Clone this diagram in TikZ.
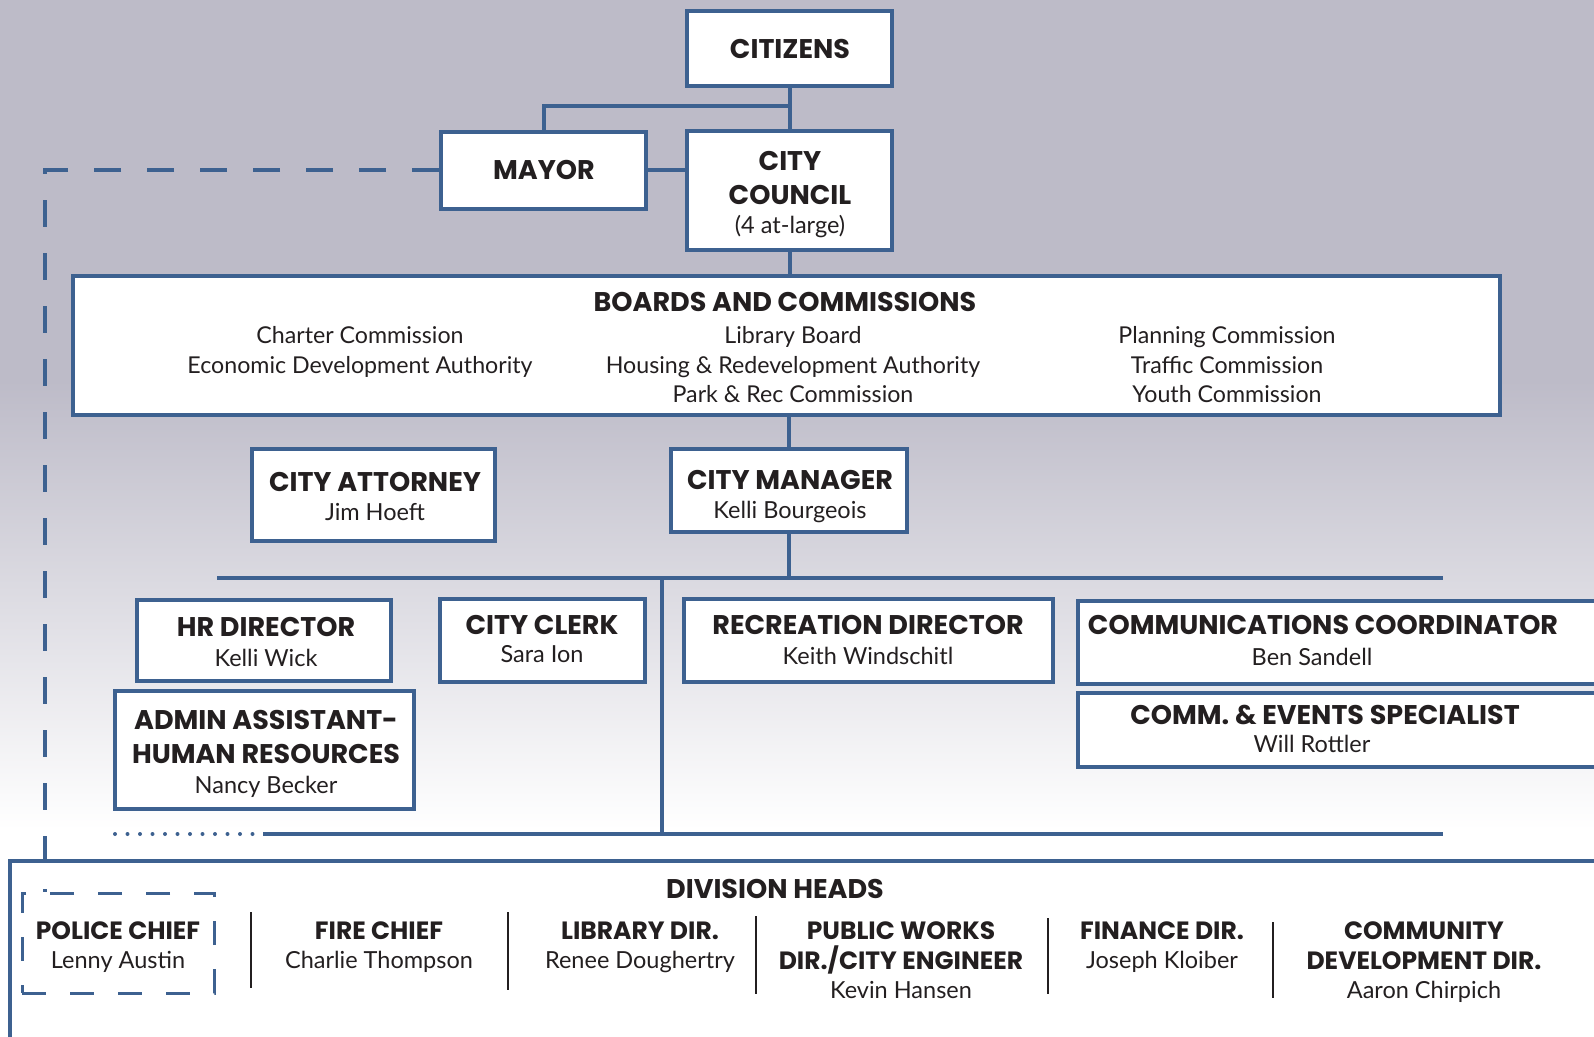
\documentclass[tikz,border=0pt]{standalone}
\usepackage{fontspec}
\setmainfont{Lato}
\newfontfamily\hf{Poppins}
\definecolor{bgtop}{RGB}{189,187,200}
\definecolor{navy}{RGB}{61,97,144}
\definecolor{ink}{RGB}{35,31,32}
\tikzset{
  box/.style={draw=navy, line width=4pt, fill=white, inner sep=0pt},
  conn/.style={draw=navy, line width=4pt},
  dashconn/.style={draw=navy, line width=4pt, dash pattern=on 27pt off 26pt},
  dotconn/.style={draw=navy, line width=4pt, line cap=round, dash pattern=on 0pt off 12.5pt},
  polbox/.style={draw=navy, line width=3pt, dash pattern=on 24pt off 24pt, inner sep=0pt},
  sep/.style={draw=ink, line width=2pt},
  hd/.style={font=\hf\bfseries\fontsize{27}{30}\selectfont, text=ink, anchor=base, inner sep=0pt},
  hdc/.style={font=\hf\bfseries\fontsize{27}{30}\selectfont, text=ink, anchor=base, inner sep=0pt},
  dh/.style={font=\hf\bfseries\fontsize{25}{28}\selectfont, text=ink, anchor=base, inner sep=0pt},
  nm/.style={font=\fontsize{23.5}{26}\selectfont, text=ink, anchor=base, inner sep=0pt},
  bd/.style={font=\fontsize{23.2}{26}\selectfont, text=ink, anchor=base, inner sep=0pt},
}
\begin{document}
\begin{tikzpicture}[x=1pt,y=-1pt]
\useasboundingbox (0,0) rectangle (1594,1036);
\clip (0,0) rectangle (1594,1036);
% background
\fill[bgtop] (0,0) rectangle (1594,380);
\shade[top color=bgtop, bottom color=white] (0,380) rectangle (1594,830);
\fill[white] (0,830) rectangle (1594,1036);

% division heads frame
\node[box, anchor=north west, minimum width=1700, minimum height=300] (div) at (8,859) {};

% top boxes
\node[box, minimum width=205, minimum height=75] (cit) at (789.5,48.5) {};
\node[box, minimum width=205, minimum height=77] (mayor) at (543.5,170) {};
\node[box, minimum width=205, minimum height=119] (coun) at (789.5,190.5) {};
\node[box, minimum width=1427, minimum height=139] (boards) at (786.5,345.5) {};
\node[box, minimum width=243, minimum height=92] (att) at (373.5,495) {};
\node[box, minimum width=236, minimum height=83] (mgr) at (789,490.5) {};

% connectors
\coordinate (j1) at (543.5,106);
\draw[conn] (cit.south) -- (coun.north);
\draw[conn] (mayor.north) -- (j1) -- (j1 -| cit.south);
\draw[conn] (mayor.east) -- (mayor.east -| coun.west);
\draw[conn] (coun.south) -- (coun.south |- boards.north);
\draw[conn] (mgr.north |- boards.south) -- (mgr.north);
\coordinate (b1l) at (217,578);
\coordinate (b1r) at (1443,578);
\coordinate (b2l) at (263,834);
\coordinate (b2r) at (1443,834);
\coordinate (dotl) at (115,834);
\coordinate (vx) at (662,578);
\draw[conn] (mgr.south) -- (mgr.south |- b1l);
\draw[conn] (b1l) -- (b1r);
\draw[conn] (vx) -- (vx |- b2l);
\draw[conn] (b2l) -- (b2r);
\draw[dotconn] (dotl) -- (b2l);

% police dashed box and dashed link
\node[polbox, minimum width=192, minimum height=100] (pol) at (118,943) {};
\coordinate (dc) at (45,172);
\draw[dashconn] (mayor.west) -- (mayor.west -| dc) -- (dc |- pol.north);

% staff boxes
\node[box, minimum width=254, minimum height=81] (hr) at (264,640.5) {};
\node[box, minimum width=205, minimum height=83] (clerk) at (542.5,640.5) {};
\node[box, minimum width=369, minimum height=83] (rec) at (868.5,640.5) {};
\node[box, anchor=north west, minimum width=560, minimum height=83] (comm) at (1076,599) {};
\node[box, anchor=north west, minimum width=560, minimum height=74] (evt) at (1076,691) {};
\node[box, minimum width=299, minimum height=118] (adm) at (264.5,750) {};

% texts top
\node[hdc] (t-cit) at (790,58) {CITIZENS};
\node[hdc] (t-may) at (544,179) {MAYOR};
\node[hdc] (t-cou1) at (790,170) {CITY};
\node[hdc] (t-cou2) at (790,204) {COUNCIL};
\node[nm] (t-cou3) at (790,233) {(4 at-large)};

% boards
\node[hd] (t-bd) at (785,311) {BOARDS AND COMMISSIONS};
\node[bd] (b-1) at (360,343) {Charter Commission};
\node[bd] (b-2) at (360,373) {Economic Development Authority};
\node[bd] (b-3) at (793,343) {Library Board};
\node[bd] (b-4) at (793,373) {Housing \& Redevelopment Authority};
\node[bd] (b-5) at (793,402) {Park \& Rec Commission};
\node[bd] (b-6) at (1227,343) {Planning Commission};
\node[bd] (b-7) at (1227,373) {Traffic Commission};
\node[bd] (b-8) at (1227,402) {Youth Commission};

% attorney / manager
\node[hd] (t-att) at (375,491) {CITY ATTORNEY};
\node[nm] (n-att) at (375,520) {Jim Hoeft};
\node[hd] (t-mgr) at (790,489) {CITY MANAGER};
\node[nm] (n-mgr) at (790,518) {Kelli Bourgeois};

% staff
\node[hd] (t-hr) at (266,636) {HR DIRECTOR};
\node[nm] (n-hr) at (266,666) {Kelli Wick};
\node[hd] (t-clk) at (542,634) {CITY CLERK};
\node[nm] (n-clk) at (542,662) {Sara Ion};
\node[hd] (t-rec) at (868,634) {RECREATION DIRECTOR};
\node[nm] (n-rec) at (868,664) {Keith Windschitl};
\node[hd] (t-com) at (1323,634) {COMMUNICATIONS COORDINATOR};
\node[nm] (n-com) at (1312,665) {Ben Sandell};
\node[hd] (t-evt) at (1325,724) {COMM. \& EVENTS SPECIALIST};
\node[nm] (n-evt) at (1312,752) {Will Rottler};
\node[hd] (t-adm1) at (266,729) {ADMIN ASSISTANT-};
\node[hd] (t-adm2) at (266,763) {HUMAN RESOURCES};
\node[nm] (n-adm) at (266,793) {Nancy Becker};

% division heads
\node[hdc] (t-div) at (775,898) {DIVISION HEADS};
\node[dh] (d-1) at (118,939) {POLICE CHIEF};
\node[nm] (dn-1) at (118,968) {Lenny Austin};
\node[dh] (d-2) at (379,939) {FIRE CHIEF};
\node[nm] (dn-2) at (379,968) {Charlie Thompson};
\node[dh] (d-3) at (640,939) {LIBRARY DIR.};
\node[nm] (dn-3) at (640,968) {Renee Doughertry};
\node[dh] (d-4a) at (901,939) {PUBLIC WORKS};
\node[dh] (d-4b) at (901,969) {DIR./CITY ENGINEER};
\node[nm] (dn-4) at (901,998) {Kevin Hansen};
\node[dh] (d-5) at (1162,939) {FINANCE DIR.};
\node[nm] (dn-5) at (1162,968) {Joseph Kloiber};
\node[dh] (d-6a) at (1424,939) {COMMUNITY};
\node[dh] (d-6b) at (1424,969) {DEVELOPMENT DIR.};
\node[nm] (dn-6) at (1424,998) {Aaron Chirpich};

% separators
\draw[sep] (251,912) -- (251,988);
\draw[sep] (508,912) -- (508,990);
\draw[sep] (756,916) -- (756,994);
\draw[sep] (1048,918) -- (1048,994);
\draw[sep] (1273,922) -- (1273,998);
\end{tikzpicture}
\end{document}
